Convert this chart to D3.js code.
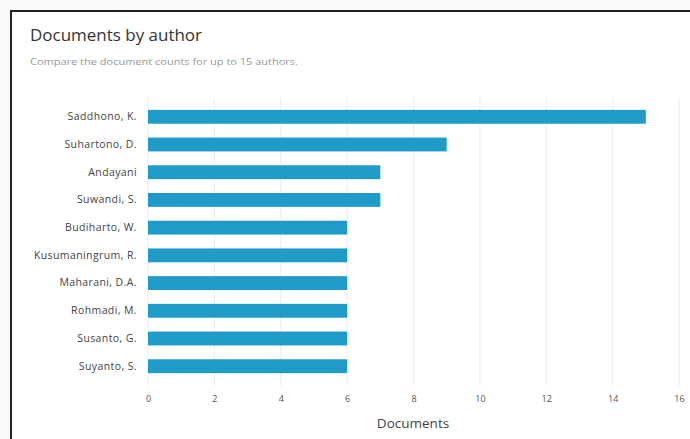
<!DOCTYPE html>
<html><head><meta charset="utf-8">
<script src="https://cdn.jsdelivr.net/npm/d3@7"></script>
<style>
html,body{margin:0;padding:0;background:#fafafa;}
svg{display:block;}
</style></head>
<body>
<svg id="c" width="690" height="439"></svg>
<script>
const authors = ["Saddhono, K.","Suhartono, D.","Andayani","Suwandi, S.","Budiharto, W.","Kusumaningrum, R.","Maharani, D.A.","Rohmadi, M.","Susanto, G.","Suyanto, S."];
const documents = [15, 9, 7, 7, 6, 6, 6, 6, 6, 6];
const xTicks = [0, 2, 4, 6, 8, 10, 12, 14, 16];
const titleText = "Documents by author";
const subtitleText = "Compare the document counts for up to 15 authors.";
const xTitle = "Documents";

const svg = d3.select("#c");
const font = "'Open Sans', sans-serif";

svg.append("rect").attr("x",11).attr("y",11).attr("width",700).attr("height",450)
  .attr("fill","#fff").attr("stroke","#222").attr("stroke-width",2);

svg.append("text").attr("x",30).attr("y",41).text(titleText)
  .attr("font-family",font).attr("font-size",17).attr("fill","#333")
  .attr("textLength",172).attr("lengthAdjust","spacingAndGlyphs");
svg.append("text").attr("x",30).attr("y",65).text(subtitleText)
  .attr("font-family",font).attr("font-size",9.5).attr("fill","#999")
  .attr("textLength",268).attr("lengthAdjust","spacingAndGlyphs");

const x = d3.scaleLinear().domain([0,16]).range([148,679]);
const y = d3.scaleBand().domain(authors).range([96,387]).padding(0.5);

const g = svg.append("g");
g.selectAll("line.grid").data(xTicks).join("line")
  .attr("class","grid")
  .attr("x1",d=>x(d)).attr("x2",d=>x(d))
  .attr("y1",98).attr("y2",386)
  .attr("stroke","#ececec").attr("stroke-width",1);

g.selectAll("rect.bar").data(authors).join("rect")
  .attr("class","bar")
  .attr("x",x(0)).attr("y",d=>y(d))
  .attr("width",(d,i)=>x(documents[i])-x(0))
  .attr("height",y.bandwidth())
  .attr("fill","#1f9bc8");

const yAxis = svg.append("g").attr("transform",`translate(${x(0)-11},0)`)
  .call(d3.axisLeft(y).tickSize(0).tickPadding(0));
yAxis.select(".domain").remove();
yAxis.selectAll("text").attr("font-family",font).attr("font-size",10.5).attr("fill","#444")
  .attr("letter-spacing",0.4);

const xAxis = svg.append("g").attr("transform",`translate(0,388)`)
  .call(d3.axisBottom(x).tickValues(xTicks).tickSize(0).tickPadding(8));
xAxis.select(".domain").remove();
xAxis.selectAll("text").attr("font-family",font).attr("font-size",9).attr("fill","#555");

svg.append("text").attr("x",413).attr("y",428).attr("text-anchor","middle").text(xTitle)
  .attr("font-family",font).attr("font-size",13.5).attr("fill","#444");
</script>
</body></html>
